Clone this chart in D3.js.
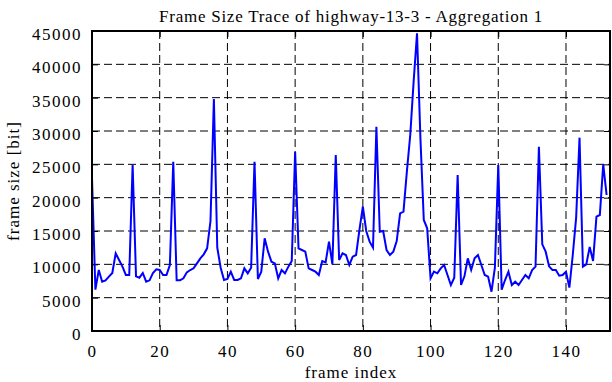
<!DOCTYPE html>
<html>
<head>
<meta charset="utf-8">
<script src="https://cdn.jsdelivr.net/npm/d3@7"></script>
<style>
  body { margin: 0; background: #fff; }
  svg text { font-family: 'Liberation Serif', 'DejaVu Serif', serif; fill: #000; }
  .axis path { display: none; }
  .axis line { stroke: #000; stroke-width: 1; }
  .axis text { font-size: 17px; letter-spacing: 1.5px; }
</style>
</head>
<body>
<div class="chart"></div>
<script>
'use strict';

// frame size per frame index (bits)
const frameSizes = [
  22900, 6200, 9150, 7400, 7600, 8150, 8700, 11650, 10650, 9650,
  8400, 8400, 24900, 8200, 8000, 8700, 7400, 7600, 8700, 9250,
  9150, 8400, 8400, 9900, 25400, 7600, 7600, 7900, 8800, 9150,
  9400, 10150, 10900, 11500, 12400, 16500, 34800, 12500, 9500, 7650,
  7800, 8900, 7650, 7650, 7900, 9400, 8650, 9500, 25400, 7800,
  8900, 13900, 11900, 10400, 10150, 7900, 9150, 8650, 9650, 10500,
  26900, 12400, 12150, 11900, 9400, 9150, 8900, 8400, 10500, 10300,
  13400, 10000, 26400, 10650, 11650, 11400, 9900, 11150, 11400, 15200,
  18650, 15000, 13400, 12500, 30650, 14900, 15000, 12150, 11400, 11900,
  13500, 17650, 17900, 23900, 29400, 37400, 44650, 29000, 16650, 15400,
  7900, 8900, 8650, 9400, 9900, 8400, 6900, 8000, 23400, 6900,
  8200, 10900, 9150, 10900, 11400, 9900, 8400, 8150, 5900, 9500,
  24900, 6200, 7650, 8900, 6900, 7400, 6900, 7650, 8400, 7900,
  9150, 9650, 27650, 13000, 11900, 9700, 9150, 9150, 8300, 8400,
  8900, 6500, 11400, 17000, 29000, 9650, 10000, 12600, 10500, 17150,
  17400, 25000, 20400
];
const xTicks = [0, 20, 40, 60, 80, 100, 120, 140];
const yTicks = [0, 5000, 10000, 15000, 20000, 25000, 30000, 35000, 40000, 45000];
const xDomain = [0, 153];
const yDomain = [0, 45000];

const margin = { top: 31, right: 2, bottom: 51, left: 92 };
const FULL_WIDTH = 612;
const FULL_HEIGHT = 382;
const WIDTH = FULL_WIDTH - margin.left - margin.right;
const HEIGHT = FULL_HEIGHT - margin.top - margin.bottom;
const TICK = 6;

const root = d3.select('.chart')
  .append('svg')
    .attr('width', FULL_WIDTH)
    .attr('height', FULL_HEIGHT);

const svg = root.append('g')
    .attr('transform', 'translate(' + margin.left + ',' + margin.top + ')');

const x = d3.scaleLinear().domain(xDomain).range([0, WIDTH]);
const y = d3.scaleLinear().domain(yDomain).range([HEIGHT, 0]);

// dashed grid
svg.append('g')
  .selectAll('line')
  .data(xTicks.slice(1))
  .enter()
  .append('line')
    .attr('x1', (d) => x(d)).attr('x2', (d) => x(d))
    .attr('y1', 0).attr('y2', HEIGHT)
    .attr('stroke', '#000')
    .attr('stroke-dasharray', '8,4');

svg.append('g')
  .selectAll('line')
  .data(yTicks.slice(1, -1))
  .enter()
  .append('line')
    .attr('y1', (d) => y(d)).attr('y2', (d) => y(d))
    .attr('x1', 0).attr('x2', WIDTH)
    .attr('stroke', '#000')
    .attr('stroke-dasharray', '8,4');

// axes with inward ticks, mirrored on top / right
svg.append('g')
    .attr('class', 'axis')
    .attr('transform', 'translate(0,' + HEIGHT + ')')
    .call(d3.axisBottom(x).tickValues(xTicks).tickSizeInner(-TICK).tickSizeOuter(0).tickPadding(14));

svg.append('g')
    .attr('class', 'axis')
    .call(d3.axisTop(x).tickValues(xTicks).tickSizeInner(-TICK).tickSizeOuter(0).tickFormat(''));

svg.append('g')
    .attr('class', 'axis')
    .call(d3.axisLeft(y).tickValues(yTicks).tickSizeInner(-TICK).tickSizeOuter(0).tickPadding(10)
      .tickFormat(d3.format('d')))
  .selectAll('text')
    .attr('dy', '0.5em');

svg.append('g')
    .attr('class', 'axis')
    .attr('transform', 'translate(' + WIDTH + ',0)')
    .call(d3.axisRight(y).tickValues(yTicks).tickSizeInner(-TICK).tickSizeOuter(0).tickFormat(''));

// the trace
const line = d3.line()
  .x((d, i) => x(i))
  .y((d) => y(d));

svg.append('path')
    .datum(frameSizes)
    .attr('d', line)
    .attr('fill', 'none')
    .attr('stroke', '#0000ff')
    .attr('stroke-width', 2)
    .attr('stroke-linejoin', 'miter');

// border
svg.append('rect')
    .attr('width', WIDTH)
    .attr('height', HEIGHT)
    .attr('fill', 'none')
    .attr('stroke', '#000')
    .attr('stroke-width', 2);

// titles
root.append('text')
    .attr('x', margin.left + WIDTH / 2)
    .attr('y', 22)
    .attr('text-anchor', 'middle')
    .attr('font-size', '17px')
    .attr('letter-spacing', '0.75px')
    .text('Frame Size Trace of highway-13-3 - Aggregation 1');

root.append('text')
    .attr('x', margin.left + WIDTH / 2)
    .attr('y', 378)
    .attr('text-anchor', 'middle')
    .attr('font-size', '17px')
    .attr('letter-spacing', '1px')
    .text('frame index');

root.append('text')
    .attr('transform', 'translate(19,' + (margin.top + HEIGHT / 2) + ') rotate(-90)')
    .attr('text-anchor', 'middle')
    .attr('font-size', '17px')
    .attr('letter-spacing', '1px')
    .text('frame size [bit]');
</script>
</body>
</html>
